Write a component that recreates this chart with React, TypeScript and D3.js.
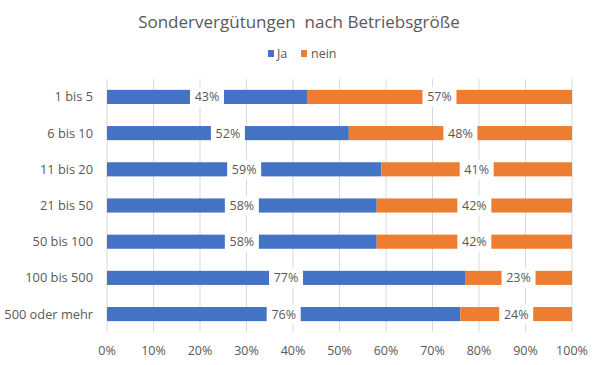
import * as d3 from "d3"

const categories = ["1 bis 5", "6 bis 10", "11 bis 20", "21 bis 50", "50 bis 100", "100 bis 500", "500 oder mehr"]
const jaValues = [43, 52, 59, 58, 58, 77, 76]
const neinValues = [57, 48, 41, 42, 42, 23, 24]
const xTicks = [0, 10, 20, 30, 40, 50, 60, 70, 80, 90, 100]

const seriesNames = ["Ja", "nein"]
const colors = ["#4472C4", "#ED7D31"]

export default function App() {
  const width = 600
  const height = 365
  const margin = { top: 79, right: 28, bottom: 33, left: 107 }
  const textColor = "#595959"
  const font = "'Open Sans', 'Noto Sans', sans-serif"

  const x = d3.scaleLinear().domain([0, 100]).range([margin.left, width - margin.right])
  const y = d3
    .scaleBand<string>()
    .domain(categories)
    .range([margin.top, height - margin.bottom])
    .paddingInner(0.61)
    .paddingOuter(0.3)

  const rows = categories.map((c, i) => ({ cat: c, ja: jaValues[i], nein: neinValues[i] }))
  const stack = d3.stack<{ cat: string; ja: number; nein: number }>().keys(["ja", "nein"])
  const stacked = stack(rows)

  const plotBottom = height - margin.bottom

  return (
    <svg width={width} height={height} style={{ position: "absolute", left: 0, top: 0, background: "#fff" }} fontFamily={font}>
      <text x={299} y={28} textAnchor="middle" fontSize={17} fill={textColor} style={{ whiteSpace: "pre" }}>
        {"Sondervergütungen  nach Betriebsgröße"}
      </text>

      {/* legend */}
      <g transform="translate(268,50)">
        <rect x={0} y={0} width={6} height={7} fill={colors[0]} />
        <text x={9} y={7.5} fontSize={12.5} fill={textColor}>{seriesNames[0]}</text>
        <rect x={33} y={0} width={6} height={7} fill={colors[1]} />
        <text x={43} y={7.5} fontSize={12.5} fill={textColor}>{seriesNames[1]}</text>
      </g>

      {/* gridlines */}
      {xTicks.map((t) => (
        <line key={t} x1={x(t)} x2={x(t)} y1={margin.top} y2={plotBottom} stroke="#d9d9d9" strokeWidth={1} />
      ))}

      {/* bars */}
      {stacked.map((s, si) =>
        s.map((d, i) => (
          <rect
            key={`${si}-${i}`}
            x={x(d[0])}
            y={y(categories[i])!}
            width={x(d[1]) - x(d[0])}
            height={y.bandwidth()}
            fill={colors[si]}
          />
        )),
      )}

      {/* data labels */}
      {stacked.map((s, si) =>
        s.map((d, i) => {
          const cx = x((d[0] + d[1]) / 2)
          const cy = y(categories[i])! + y.bandwidth() / 2
          const v = d[1] - d[0]
          return (
            <g key={`l-${si}-${i}`}>
              <rect x={cx - 17} y={cy - 10} width={34} height={20} fill="#fff" />
              <text x={cx} y={cy + 4.5} textAnchor="middle" fontSize={12.5} fill={textColor}>
                {v}%
              </text>
            </g>
          )
        }),
      )}

      {/* category labels */}
      {categories.map((c) => (
        <text key={c} x={margin.left - 14} y={y(c)! + y.bandwidth() / 2 + 4.5} textAnchor="end" fontSize={12.8} fill={textColor}>
          {c}
        </text>
      ))}

      {/* x tick labels */}
      {xTicks.map((t) => (
        <text key={t} x={x(t)} y={355} textAnchor="middle" fontSize={12.5} fill={textColor}>
          {t}%
        </text>
      ))}
    </svg>
  )
}
